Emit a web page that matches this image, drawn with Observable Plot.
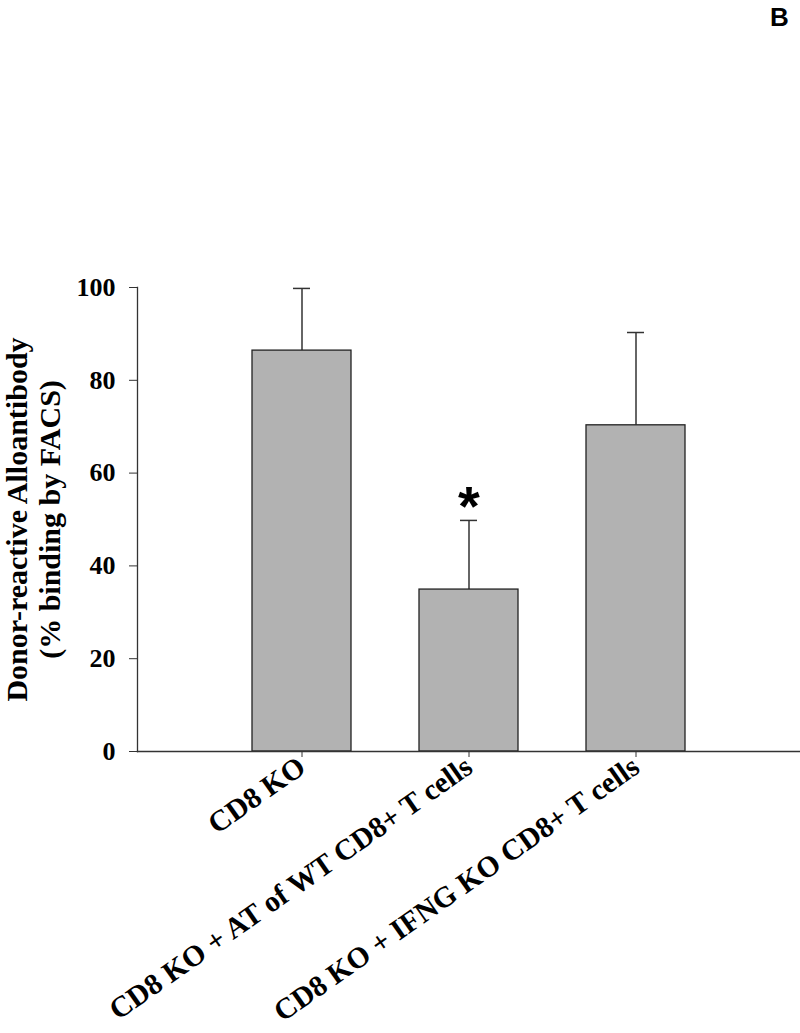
<!DOCTYPE html>
<html>
<head>
<meta charset="utf-8">
<script src="https://cdn.jsdelivr.net/npm/d3@7"></script>
<script src="https://cdn.jsdelivr.net/npm/@observablehq/plot@0.6"></script>
<style>
  body { margin: 0; background: #fff; }
  #wrap { position: relative; width: 800px; height: 1033px; overflow: hidden; }
  #panel { position: absolute; left: 770px; top: 3px; font: bold 26px "Liberation Sans", Arial, sans-serif; line-height: 1.1; color: #000; }
</style>
</head>
<body>
<div id="wrap"><div id="panel">B</div></div>
<script>
const groups = ["CD8 KO", "CD8 KO + AT of WT CD8+ T cells", "CD8 KO + IFNG KO CD8+ T cells"];
const means = [86.4, 34.9, 70.3];
const errors = [13.4, 14.9, 20.0];
const significance = ["", "*", ""];
const yTicks = [0, 20, 40, 60, 80, 100];
const yLabel = "Donor-reactive Alloantibody\n(% binding by FACS)";

const data = groups.map((g, i) => ({ group: g, mean: means[i], top: means[i] + errors[i], sig: significance[i] }));

const serif = '"Liberation Serif", "Times New Roman", serif';

const chart = Plot.plot({
  width: 800,
  height: 1033,
  marginTop: 287,
  marginBottom: 282,
  marginLeft: 137,
  marginRight: 0,
  style: { fontFamily: serif, fontWeight: "bold", fontSize: "26px", background: "#fff", color: "#000" },
  x: { domain: groups, paddingInner: 0.405, paddingOuter: 0.685, label: null },
  y: { domain: [0, 100], label: null },
  marks: [
    Plot.ruleX(data, { x: "group", y1: "mean", y2: "top", stroke: "#333", strokeWidth: 1.5 }),
    Plot.tickY(data, { x: "group", y: "top", stroke: "#333", strokeWidth: 1.5, insetLeft: 41, insetRight: 41 }),
    Plot.barY(data, { x: "group", y: "mean", fill: "#b2b2b2", stroke: "#222", strokeWidth: 1.3 }),
    Plot.text(data, { x: "group", y: "top", text: "sig", dy: -13, fontSize: 56, fontFamily: '"Liberation Sans", Arial, sans-serif', fontWeight: "bold", fill: "#000" }),
    Plot.frame({ anchor: "left", stroke: "#333", strokeWidth: 1.3 }),
    Plot.frame({ anchor: "bottom", stroke: "#333", strokeWidth: 1.3 }),
    Plot.axisY({ ticks: yTicks, tickSize: 8, tickPadding: 14, tickFormat: d => String(d), stroke: "#333", fontSize: 26, label: null }),
    Plot.axisX({ tickSize: 6, tickPadding: 6, tickRotate: -35, stroke: "#333", fontSize: 29.5, label: null }),
    Plot.text([yLabel], { frameAnchor: "left", text: d => d, rotate: -90, textAnchor: "middle", dx: -105, fontSize: 30, lineHeight: 1.1, fontFamily: serif, fontWeight: "bold", fill: "#000" })
  ]
});

document.getElementById("wrap").appendChild(chart);
</script>
</body>
</html>
